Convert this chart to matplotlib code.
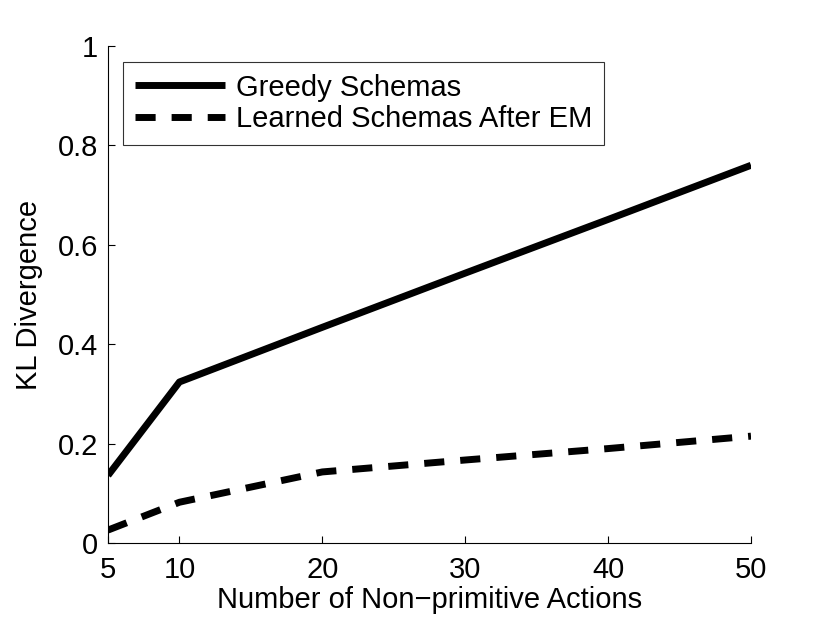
import matplotlib
matplotlib.use("Agg")
import matplotlib.pyplot as plt

plt.rcParams['font.family'] = ['Liberation Sans', 'DejaVu Sans']

# Data
n_actions = [5, 10, 20, 30, 40, 50]
greedy = [0.136, 0.324, 0.434, 0.543, 0.651, 0.760]
learned = [0.026, 0.082, 0.143, 0.167, 0.190, 0.215]

xticks = [5, 10, 20, 30, 40, 50]
yticks = [0, 0.2, 0.4, 0.6, 0.8, 1]
ytick_labels = ["0", "0.2", "0.4", "0.6", "0.8", "1"]

FS = 21

fig = plt.figure(figsize=(8.3, 6.24), dpi=100)
ax = fig.add_axes([108 / 830, 1 - 543 / 624, (751 - 108) / 830, (543 - 46) / 624])

ax.plot(n_actions, greedy, color='black', lw=5, solid_capstyle='butt',
        label='Greedy Schemas')
ax.plot(n_actions, learned, color='black', lw=5, dashes=(2.9, 2.3),
        dash_capstyle='butt', label='Learned Schemas After EM')

ax.set_xlim(5, 50)
ax.set_ylim(0, 1)
ax.set_xticks(xticks)
ax.set_yticks(yticks)
ax.set_yticklabels(ytick_labels)

for side in ('top', 'right'):
    ax.spines[side].set_visible(False)
for side in ('left', 'bottom'):
    ax.spines[side].set_linewidth(0.8)

ax.tick_params(direction='in', length=5, width=0.8, labelsize=FS)
ax.tick_params(axis='x', pad=9)
ax.tick_params(axis='y', pad=7)
ax.set_xlabel('Number of Non\u2212primitive Actions', fontsize=FS, labelpad=2)
ax.set_ylabel('KL Divergence', fontsize=FS, labelpad=11)

leg = ax.legend(loc='upper left', bbox_to_anchor=(15 / 643, 1 - 16 / 497),
                fontsize=FS, frameon=True, fancybox=False, handlelength=3.1,
                handletextpad=0.38, borderpad=0.4, labelspacing=0.12,
                borderaxespad=0)
leg.get_frame().set_edgecolor('black')
leg.get_frame().set_linewidth(0.8)

plt.savefig("out.png", dpi=100)
